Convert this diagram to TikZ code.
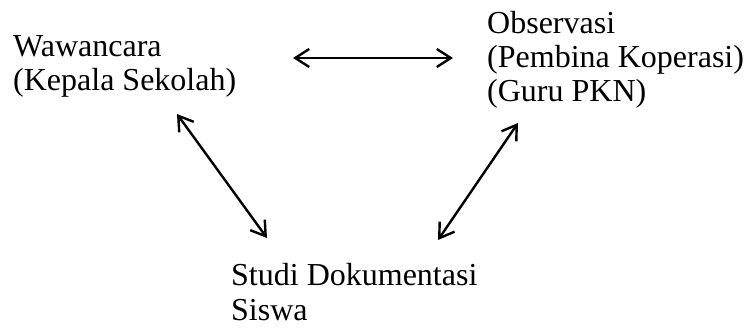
\documentclass[tikz,border=0pt]{standalone}
\usepackage{fontspec}
\setmainfont{Liberation Serif}
\usetikzlibrary{arrows.meta}
\begin{document}
\begin{tikzpicture}[x=1pt,y=-1pt,
  lbl/.style={anchor=base west,inner sep=0pt,align=left,font=\fontsize{32}{34.5}\selectfont},
  tip/.style={},
  conn/.style={line width=2.4pt,{Straight Barb[length=14pt,width=18pt,line width=2.4pt]}-{Straight Barb[length=14pt,width=18pt,line width=2.4pt]}}]
\useasboundingbox[fill=white] (0,0) rectangle (745,329);
\node[lbl] (w) at (13,91) {Wawancara\\(Kepala Sekolah)};
\node[lbl] (o) at (487,102) {Observasi\\(Pembina Koperasi)\\(Guru PKN)};
\node[lbl] (s) at (231,320) {Studi Dokumentasi\\Siswa};
\coordinate (a1) at (293,58);
\coordinate (a2) at (453,58);
\coordinate (b1) at (177,114);
\coordinate (b2) at (267,238);
\coordinate (c1) at (518,123);
\coordinate (c2) at (438,240);
\draw[conn] (a1) -- (a2);
\draw[conn] (b1) -- (b2);
\draw[conn] (c1) -- (c2);
\end{tikzpicture}
\end{document}
